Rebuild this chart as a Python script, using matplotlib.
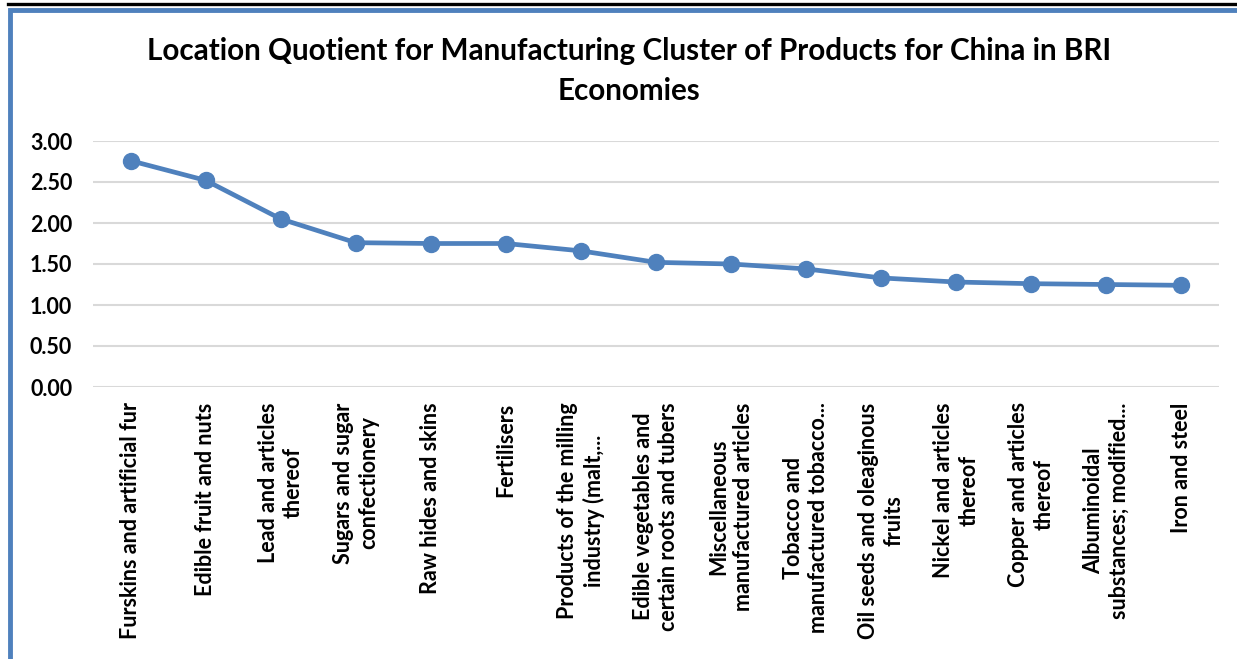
import matplotlib
matplotlib.use("Agg")
import matplotlib.pyplot as plt
from matplotlib.patches import Rectangle
from matplotlib.lines import Line2D

plt.rcParams['font.family'] = ['Lato', 'DejaVu Sans']
plt.rcParams['font.weight'] = 'bold'

# Location quotients by product group, ordered high to low
products = [
    "Furskins and artificial fur",
    "Edible fruit and nuts",
    "Lead and articles\nthereof",
    "Sugars and sugar\nconfectionery",
    "Raw hides and skins",
    "Fertilisers",
    "Products of the milling\nindustry (malt,...",
    "Edible vegetables and\ncertain roots and tubers",
    "Miscellaneous\nmanufactured articles",
    "Tobacco and\nmanufactured tobacco...",
    "Oil seeds and oleaginous\nfruits",
    "Nickel and articles\nthereof",
    "Copper and articles\nthereof",
    "Albuminoidal\nsubstances; modified...",
    "Iron and steel",
]
lq_values = [2.76, 2.52, 2.05, 1.76, 1.75, 1.75, 1.66, 1.52, 1.50, 1.44,
             1.33, 1.28, 1.26, 1.25, 1.24]
y_ticks = [0.0, 0.5, 1.0, 1.5, 2.0, 2.5, 3.0]

W, H = 1237, 659
fig = plt.figure(figsize=(W / 100, H / 100), dpi=100)
fig.patch.set_facecolor('white')

# chart frame and the rule above it
fig.add_artist(Line2D([8 / W, 1.0], [1 - 4 / H, 1 - 4 / H], color='black',
                      lw=2.4, transform=fig.transFigure))
fig.add_artist(Rectangle((9.5 / W, -0.05), 1.2, 1 - 10 / H + 0.05,
                         transform=fig.transFigure, fill=False,
                         edgecolor='#4F81BD', lw=3.5))

ax = fig.add_axes([93 / W, 1 - 387 / H, (1219 - 93) / W, (387 - 141) / H])
x = list(range(len(products)))
ax.plot(x, lq_values, color='#4F81BD', lw=3.4, marker='o', markersize=11.5,
        solid_capstyle='round', zorder=3)

ax.set_xlim(-0.5, len(products) - 0.5)
ax.set_ylim(0, 3)
ax.set_yticks(y_ticks)
ax.set_yticklabels([f"{v:.2f}" for v in y_ticks], fontsize=15.5, fontweight='bold')
ax.set_xticks(x)
ax.set_xticklabels(products, rotation=90, fontsize=15.5, fontweight='bold',
                   multialignment='center', linespacing=1.25)
ax.tick_params(axis='both', length=0)
ax.tick_params(axis='y', pad=15)
ax.tick_params(axis='x', pad=11)
ax.yaxis.grid(True, color='#D9D9D9', lw=1.5)
ax.set_axisbelow(True)
for s in ax.spines.values():
    s.set_visible(False)

fig.text(629 / W, 1 - 37 / H,
         "Location Quotient for Manufacturing Cluster of Products for China in BRI\nEconomies",
         ha='center', va='top', fontsize=21.3, fontweight='bold', linespacing=1.5)

fig.savefig("out.png", dpi=100)
